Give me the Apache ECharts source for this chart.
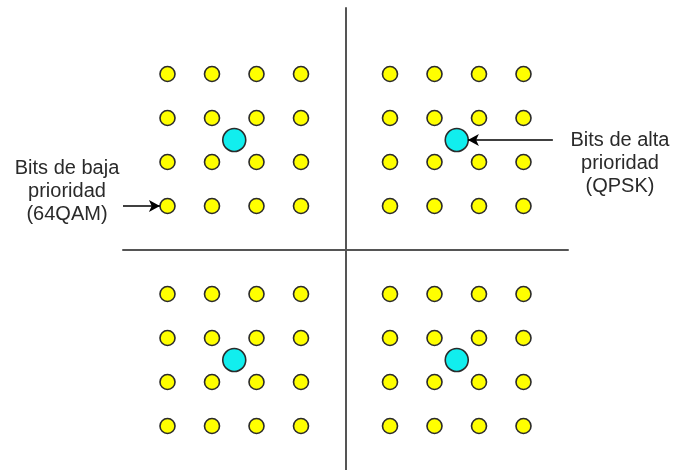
<!DOCTYPE html>
<html>
<head>
<meta charset="utf-8">
<script src="https://cdn.jsdelivr.net/npm/echarts@6/dist/echarts.min.js"></script>
<style>
  html, body { margin: 0; padding: 0; background: #fff; }
  #chart { width: 675px; height: 470px; }
</style>
</head>
<body>
<div id="chart"></div>
<script>
// 64QAM grid levels (same on both axes)
const qamLevels = [-4, -3, -2, -1, 1, 2, 3, 4]
// QPSK points (one per quadrant)
const qpskPoints = [[-2.5, 2.5], [2.5, 2.5], [-2.5, -2.5], [2.5, -2.5]]
// arrows: [from, to]
const lowArrow = [[-5, 1], [-4.17, 1]]
const highArrow = [[4.66, 2.5], [2.75, 2.5]]

const qamPoints = []
qamLevels.forEach(y => {
    qamLevels.forEach(x => qamPoints.push([x, y]))
})

const chart = echarts.init(document.getElementById('chart'))

const arrowLine = (pts) => [{ coord: pts[0] }, { coord: pts[1] }]

chart.setOption({
    animation: false,
    grid: { left: 123, right: 107, top: 8, bottom: 0 },
    xAxis: {
        type: 'value', min: -5, max: 5,
        axisLine: { onZero: true, lineStyle: { color: '#555', width: 2 } },
        axisTick: { show: false },
        axisLabel: { show: false },
        splitLine: { show: false }
    },
    yAxis: {
        type: 'value', min: -5, max: 5.5,
        axisLine: { onZero: true, lineStyle: { color: '#555', width: 2 } },
        axisTick: { show: false },
        axisLabel: { show: false },
        splitLine: { show: false }
    },
    series: [
        {
            name: '64QAM',
            type: 'scatter',
            symbolSize: 15,
            itemStyle: { color: '#ffff00', borderColor: '#2a2a2a', borderWidth: 1.6, opacity: 1 },
            data: qamPoints,
            markLine: {
                silent: true,
                symbol: ['none', 'arrow'],
                symbolSize: [9, 11],
                label: { show: false },
                lineStyle: { color: '#000', width: 1.5, type: 'solid' },
                data: [arrowLine(lowArrow), arrowLine(highArrow)]
            }
        },
        {
            name: 'QPSK',
            type: 'scatter',
            symbolSize: 23,
            z: 3,
            itemStyle: { color: '#11eeee', borderColor: '#2a2a2a', borderWidth: 1.6, opacity: 1 },
            data: qpskPoints
        }
    ],
    graphic: [
        {
            type: 'text', x: 67, y: 157,
            style: {
                text: 'Bits de baja\nprioridad\n(64QAM)',
                fill: '#2a2a2a', font: '20px "Liberation Sans", Arial, sans-serif',
                lineHeight: 23, align: 'center', verticalAlign: 'top'
            }
        },
        {
            type: 'text', x: 620, y: 129,
            style: {
                text: 'Bits de alta\nprioridad\n(QPSK)',
                fill: '#2a2a2a', font: '20px "Liberation Sans", Arial, sans-serif',
                lineHeight: 23, align: 'center', verticalAlign: 'top'
            }
        }
    ]
})
</script>
</body>
</html>
